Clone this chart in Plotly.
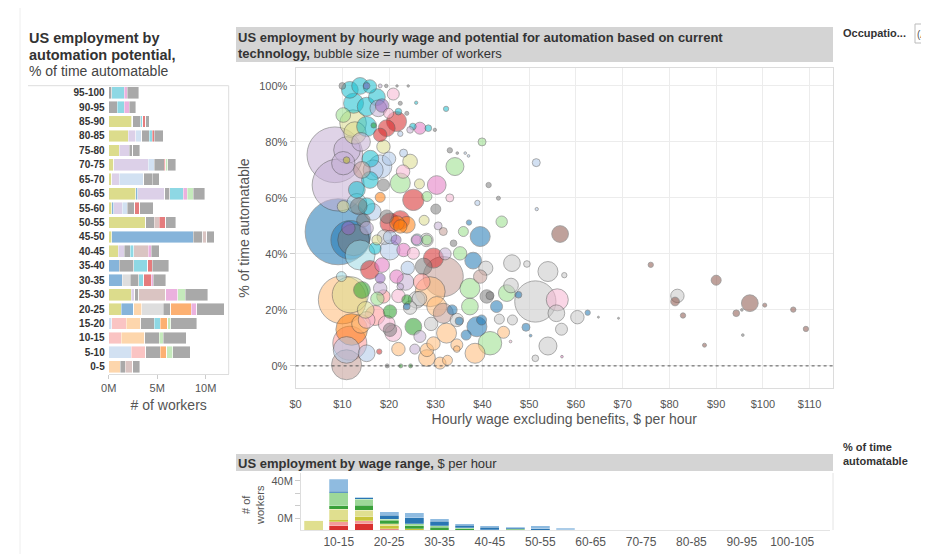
import numpy as np
import plotly.graph_objects as go

# the page body keeps its default 8px margin, so the figure is drawn 8px in
PAD = 8
W, H = 929 - PAD, 554 - PAD
FONT = "Liberation Sans"


def px(x):
    return (x - PAD) / W


def py(y):
    return 1 - (y - PAD) / H


# ---------------- left panel: workers (M) by % of time automatable
auto_rows = ["95-100", "90-95", "85-90", "80-85", "75-80", "70-75", "65-70",
             "60-65", "55-60", "50-55", "45-50", "40-45", "35-40", "30-35",
             "25-30", "20-25", "15-20", "10-15", "5-10", "0-5"]
# occupation groups, stacked left to right
olive = [0, 0, 2.4, 2.0, 1.1, 0.5, 0.3, 2.8, 0.3, 3.8, 0.3, 1.0, 0, 0, 2.3, 1.3, 0, 0, 0, 0]
blue = [0, 0, 0.1, 0, 0, 0, 0, 0.2, 0.2, 0, 8.4, 0, 1.1, 1.4, 0, 1.3, 0, 0, 0, 0]
lavender = [0, 0, 0, 0.8, 1.0, 3.6, 0.8, 2.8, 0.9, 0, 0, 0.6, 0, 0, 0.4, 0, 0, 0, 0, 0]
paleblue = [0, 0, 0, 0.6, 0, 0.6, 2.5, 0, 0.5, 0, 0, 0, 0, 0, 0, 0, 0.3, 0, 2.3, 0]
redlt = [0, 0, 0, 0, 0, 0, 0, 0, 0, 0, 0, 0, 0, 0, 0, 0, 1.5, 1.3, 1.5, 0]
orangelt = [0, 0, 0, 0, 0, 0, 0, 0, 0, 0, 0, 0, 0, 0, 0, 0.8, 1.5, 2.4, 0, 1.2]
graylt = [0, 0, 0, 0, 0, 0, 0, 0, 0, 0, 0, 0, 0, 0.8, 0, 2.2, 0, 0, 0, 0]
gray1 = [0.3, 0.9, 0.8, 0.8, 0.4, 1.0, 0.9, 0.5, 0.8, 0.9, 1.0, 0.6, 1.5, 0.9, 0.4, 0.8, 1.4, 1.5, 1.5, 0.5]
cyan = [1.3, 0.7, 0.2, 0.3, 0, 0, 0, 1.4, 0, 0, 0, 0.4, 1.4, 0.5, 0, 0, 0.6, 0, 0, 0]
brownlt = [0, 0, 0, 0, 0, 0, 0, 0, 0, 0.5, 0.4, 1.5, 0, 0, 2.8, 0, 0, 0, 0, 0.8]
orange = [0, 0, 0, 0, 0, 0, 0, 0, 0, 0, 0, 0, 0, 0, 0, 2.1, 0.8, 0, 0.7, 0]
red = [0, 0, 0.3, 0.2, 0, 0.2, 0, 0, 0.5, 0.7, 0, 0, 0.5, 0.8, 0, 0, 0, 0, 0, 0]
pink = [0.3, 0.5, 0, 0, 0, 0, 0, 0.4, 0, 0, 0, 0.3, 0, 0.2, 1.2, 0.6, 0, 0, 0, 0]
greenlt = [0, 0, 0, 0, 0, 0.2, 0, 0.6, 0, 0, 0, 0, 0, 0, 0.8, 0, 0.3, 0.4, 0.6, 0]
gray2 = [1.2, 0.7, 0.4, 0.9, 0.7, 0.8, 0.7, 1.2, 1.4, 1.0, 0.8, 0.8, 1.7, 1.3, 2.3, 2.8, 2.7, 2.4, 1.8, 0.7]

left_stack = [("olive", olive, "#dcdc8c"), ("blue", blue, "#86b4da"),
              ("lavender", lavender, "#dcd0e8"), ("paleblue", paleblue, "#d2e1f2"),
              ("redlt", redlt, "#fac4c3"), ("orangelt", orangelt, "#fdd6ac"),
              ("graylt", graylt, "#dedede"), ("gray1", gray1, "#a9a9a9"),
              ("cyan", cyan, "#8ed8e4"), ("brownlt", brownlt, "#dac4c2"),
              ("orange", orange, "#fcb072"), ("red", red, "#e57c7d"),
              ("pink", pink, "#ebb1de"), ("greenlt", greenlt, "#c5eabc"),
              ("gray2", gray2, "#a9a9a9")]

# ---------------- main scatter: wage ($/h), % automatable, workers (thousands), group
bub_wage = [13.8, 11.6, 15.9, 17.4, 12.4, 15.2, 10.0, 15.2, 18.1, 19.4, 21.7, 24.1,
            20.9, 17.7, 18.5, 19.9, 22.0, 22.4, 25.8, 23.8, 32.2, 10.2, 12.3, 21.6,
            19.5, 18.1, 16.7, 15.2, 26.6, 25.1, 28.4, 29.8, 24.5, 22.4, 14.0, 16.0,
            20.0, 8.4, 9.1, 11.0, 10.2, 10.9, 14.2, 18.1, 24.5, 18.8, 23.1, 22.4,
            23.0, 30.2, 34.1, 39.9, 33.0, 34.6, 36.3, 37.0, 15.9, 13.1, 18.8, 25.2,
            18.1, 28.1, 10.2, 41.3, 43.4, 22.4, 21.7, 38.9, 13.5, 16.5, 51.5, 51.6,
            44.1, 56.6, 12.7, 16.6, 13.1, 15.2, 19.5, 22.4,
            9.1, 11.7, 11.3, 12.4, 13.8, 14.5, 20.2, 23.8, 19.0, 17.0, 21.5, 26.0,
            27.5, 30.5, 20.2, 23.1, 25.2, 29.5, 27.4, 15.9, 18.5, 21.6, 31.6, 9.8,
            23.5, 14.2, 18.1, 10.0, 11.7, 26.5, 20.2, 23.8, 24.5, 28.8, 31.6, 15.0,
            17.0, 14.0, 19.5, 25.2, 20.9, 26.6, 32.3, 12.0, 11.6, 10.9, 15.2, 17.9,
            22.0, 25.5, 29.5, 28.1, 30.9, 32.5, 19.6, 22.5, 24.6,
            15.2, 17.4, 20.2, 25.9, 28.1, 18.1, 22.4, 23.8, 25.9, 30.2, 18.8, 15.2,
            20.2, 34.5, 28.1, 10.9, 34.5, 37.3, 40.9, 39.8,
            24.0, 28.0, 32.0, 30.0, 26.5, 33.0, 27.0, 22.0, 29.0, 17.5,
            37.3, 39.5, 31.6, 35.9, 37.1, 33.8, 35.2, 38.0, 40.7, 39.5, 46.3, 49.5,
            54.0, 57.5, 41.6, 46.1, 45.2, 47.7, 51.3, 56.0, 55.8, 60.3, 62.5, 64.8,
            69.1, 56.9, 54.0, 51.3, 57.0, 43.0, 43.6, 46.4, 49.3, 44.5, 41.6, 38.8,
            38.4, 46.0, 50.3, 33.5, 35.0, 36.5, 34.5,
            76.0, 81.7, 81.2, 82.9, 87.5, 90.0, 97.2, 94.3, 95.5, 95.7, 100.4, 106.5,
            109.2]
bub_pct = [100, 98.6, 99.8, 96, 93.8, 92.6, 100, 100, 100, 100, 100, 100,
           97.1, 92, 93, 90.2, 90.8, 93.8, 94, 90.2, 91.8, 89.6, 86.7, 87.3,
           84.9, 82.5, 85.9, 85.5, 84.9, 85.5, 84.9, 84.3, 84.3, 82.9, 80, 74,
           74, 75.4, 64.6, 77.1, 72.4, 73.5, 70, 71.2, 73, 78.3, 76, 65.3,
           69.4, 64.6, 71.2, 80.0, 77, 76, 76, 75, 66.4, 62.9, 64.6, 59.3,
           60.2, 60.5, 56.9, 64.6, 59.9, 52.1, 51, 58.2, 57, 55, 72.6, 56,
           51.5, 47.1, 83.2, 70, 58, 57, 53.3, 49.8,
           47.9, 45, 49.2, 45, 39.6, 52, 51, 50.4, 46, 42, 45, 45,
           52, 50, 41.4, 41.4, 40.2, 38.5, 35.5, 34.3, 36, 31.9, 31.9, 31.9,
           30, 27.1, 27.7, 23.6, 25.4, 24, 19.4, 21.2, 20.8, 26.5, 18.8, 20,
           18, 15, 15, 14, 11.7, 10.5, 11.7, 13, 8.1, 0.4, 4.5, 5.1,
           6, 6, 8, 2.8, 1.0, 2.0, 0, 0, 0,
           49.2, 45, 46, 45, 45, 31.3, 28.3, 23.6, 23.6, 21.2, 24.8, 16.4,
           12.9, 7.5, 5.7, 5.7, 16.4, 21.2, 24.8, 16.4,
           35, 45, 40, 56, 65, 60, 30, 25, 15, 24,
           27.7, 46.2, 48, 48, 51.2, 43.8, 40.2, 37.6, 34.9, 31.9, 36.7, 36.4,
           33.7, 32.4, 25.1, 28.7, 26, 25.4, 23, 23.6, 18.8, 17.4, 19, 17.4,
           17, 13.1, 7.1, 2.7, 3.3, 21.2, 16.7, 16.4, 13.8, 12, 8.1, 14,
           4.5, 8.7, 10.8, 20, 16, 11, 6,
           36.1, 25, 23, 18, 7.4, 30.6, 22.4, 18.8, 20, 11, 21.7, 20.1,
           13.2]
bub_workers = [280, 280, 180, 280, 400, 350, 44, 44, 15, 12, 6, 6,
               144, 280, 180, 100, 44, 16, 11, 16, 28, 215, 711, 400,
               280, 180, 28, 400, 144, 44, 44, 11, 44, 28, 350, 280,
               180, 3100, 2700, 711, 544, 44, 280, 544, 215, 180, 64, 400,
               180, 350, 324, 64, 28, 7, 7, 7, 280, 280, 144, 455,
               100, 100, 144, 28, 16, 350, 215, 28, 280, 280, 64, 11,
               130, 280, 500, 400, 400, 280, 180, 180,
               4356, 1500, 180, 1000, 900, 180, 400, 280, 215, 144, 100, 144,
               100, 64, 400, 180, 144, 400, 280, 350, 215, 180, 1600, 100,
               280, 280, 180, 2300, 1300, 215, 180, 44, 180, 900, 400, 280,
               400, 350, 280, 280, 280, 144, 400, 1000, 1156, 900, 280, 28,
               180, 100, 180, 280, 144, 100, 16, 16, 16,
               180, 100, 180, 100, 100, 100, 44, 100, 280, 400, 180, 280,
               180, 144, 180, 711, 180, 280, 180, 100,
               180, 180, 144, 100, 100, 64, 280, 180, 180, 180,
               400, 400, 64, 100, 28, 44, 180, 280, 200, 180, 280, 44,
               400, 28, 64, 215, 280, 44, 1700, 484, 280, 180, 28, 4,
               4, 144, 324, 44, 7, 144, 100, 100, 64, 144, 550, 400,
               400, 7, 7, 100, 64, 100, 44,
               28, 180, 75, 28, 16, 100, 280, 44, 7, 7, 16, 28,
               28]
bub_group = ["cyan", "cyan", "cyan", "cyan", "cyan", "cyan", "gray", "purple", "lavender", "gray", "gray", "gray",
             "lightpink", "lavender", "purple", "lightpink", "cyan", "gray", "cyan", "gray", "cyan", "lightgreen", "lightolive", "red",
             "red", "red", "green", "cyan", "pink", "cyan", "cyan", "gray", "lavender", "lightblue", "lavender", "cyan",
             "lightblue", "lavender", "lavender", "lavender", "lavender", "olive", "lightbrown", "lightblue", "lightolive", "lightolive", "lightblue", "lightgreen",
             "lightpink", "pink", "lightgreen", "lightgreen", "gray", "gray", "lightblue", "lightblue", "cyan", "cyan", "gray", "red",
             "orange", "lightgreen", "lightolive", "gray", "gray", "red", "orange", "lightblue", "gray", "lightblue", "lightblue", "lightblue",
             "lightgreen", "brown", "lightolive", "lightblue", "lightcyan", "cyan", "gray", "orange",
             "blue", "blue", "purple", "gray", "lightcyan", "gray", "red", "orange", "lightgray", "cyan", "purple", "lightcyan",
             "lightolive", "lavender", "lightblue", "pink", "lightpink", "red", "gray", "red", "pink", "pink", "lightbrown", "lightcyan",
             "lavender", "green", "lavender", "lightorange", "lightolive", "lightgray", "green", "blue", "lightgray", "lightorange", "lightbrown", "lightolive",
             "lightred", "lightorange", "lightpink", "green", "lightpink", "lavender", "lightorange", "orange", "lightred", "lightbrown", "lightblue", "red",
             "lightorange", "lavender", "lightorange", "lightorange", "lightorange", "lightorange", "gray", "green", "green",
             "lavender", "lightolive", "lightblue", "pink", "lightgreen", "purple", "lavender", "green", "lightgray", "lightorange", "lightred", "lightpink",
             "gray", "lightorange", "lightorange", "lightblue", "lightgray", "lightgreen", "gray", "blue",
             "lightblue", "lightgray", "lavender", "gray", "lightolive", "lightpink", "lightred", "lightpink", "lightgray", "lightgreen",
             "lightgreen", "blue", "lightbrown", "lightgreen", "blue", "gray", "lightgreen", "blue", "lightgray", "lightbrown", "lightgray", "lightgray",
             "lightgray", "lightgray", "gray", "lightgray", "lightgreen", "blue", "lightgray", "lightpink", "lightgray", "lightgray", "blue", "gray",
             "gray", "lightgray", "lightgray", "lightgray", "pink", "blue", "lightgray", "lightgray", "blue", "lightorange", "lightgreen", "blue",
             "lightorange", "lightpink", "blue", "blue", "blue", "blue", "lightorange",
             "brown", "lightgray", "brown", "brown", "brown", "brown", "brown", "brown", "gray", "gray", "brown", "brown",
             "brown"]

tableau20 = {"blue": "#1f77b4", "lightblue": "#aec7e8", "orange": "#ff7f0e",
             "lightorange": "#ffbb78", "green": "#2ca02c", "lightgreen": "#98df8a",
             "red": "#d62728", "lightred": "#ff9896", "purple": "#9467bd",
             "lavender": "#c5b0d5", "brown": "#8c564b", "lightbrown": "#c49c94",
             "pink": "#e377c2", "lightpink": "#f7b6d2", "gray": "#7f7f7f",
             "lightgray": "#c7c7c7", "olive": "#bcbd22", "lightolive": "#dbdb8d",
             "cyan": "#17becf", "lightcyan": "#9edae5"}

wage_ticks = [0, 10, 20, 30, 40, 50, 60, 70, 80, 90, 100, 110]

# ---------------- bottom panel: workers (M) by wage range, split by % automatable
wage_ranges = ["5-10", "10-15", "15-20", "20-25", "25-30", "30-35", "35-40",
               "40-45", "45-50", "50-55", "55-60", "60-65", "65-70", "70-75",
               "75-80", "80-85", "85-90", "90-95", "95-100", "100-105", "105-110"]
w_red = [0, 3.5, 5.1, 1.0, 0, 0, 0, 0, 0, 0, 0, 0, 0, 0, 0, 0, 0, 0, 0, 0, 0]
w_lightred = [0, 3.5, 2.7, 0.3, 0, 0, 0, 0, 0, 0, 0, 0, 0, 0, 0, 0, 0, 0, 0, 0, 0]
w_olive = [0.8, 2.0, 3.2, 2.3, 1.3, 0, 0, 0, 0, 0, 0, 0, 0, 0, 0, 0, 0, 0, 0, 0, 0]
w_lightolive = [7.5, 8.0, 5.1, 1.5, 0, 0, 0, 0, 0, 0, 0, 0, 0, 0, 0, 0, 0, 0, 0, 0, 0]
w_green = [0, 2.7, 4.0, 3.0, 2.5, 2.4, 1.3, 0.5, 1.0, 0, 0, 0, 0, 0, 0, 0, 0, 0, 0, 0, 0]
w_lightgreen = [0, 10.5, 5.1, 0.8, 1.3, 1.1, 0.8, 0, 0.3, 0, 0, 0, 0, 0, 0, 0, 0, 0, 0, 0, 0]
w_blue = [0, 1.3, 1.0, 3.2, 5.1, 3.8, 1.9, 2.0, 0.9, 1.2, 0.5, 0, 0, 0, 0, 0, 0, 0, 0, 0, 0]
w_lightblue = [0, 9.7, 0.6, 2.7, 4.0, 1.9, 1.1, 1.0, 0.5, 2.3, 1.0, 0.2, 0, 0, 0, 0, 0, 0, 0, 0, 0]

bottom_stack = [("red", w_red, "#d9302f"), ("lightred", w_lightred, "#f49a9a"),
                ("olive", w_olive, "#c8c43a"), ("lightolive", w_lightolive, "#e0df8f"),
                ("green", w_green, "#3aa13a"), ("lightgreen", w_lightgreen, "#9dd898"),
                ("blue", w_blue, "#2a76b3"), ("lightblue", w_lightblue, "#8fbbe0")]

fig = go.Figure()

# left stacked bars
for name, vals, col in left_stack:
    fig.add_trace(go.Bar(
        y=auto_rows, x=vals, orientation="h", name=name,
        marker=dict(color=col, line=dict(color="rgba(255,255,255,0.7)", width=0.6)),
        xaxis="x2", yaxis="y2", showlegend=False))

# bubbles, biggest first so the small ones stay visible
order = np.argsort(bub_workers)[::-1]
fig.add_trace(go.Scatter(
    x=np.array(bub_wage)[order], y=np.array(bub_pct)[order], mode="markers",
    marker=dict(size=np.sqrt(np.array(bub_workers)[order]), sizemode="diameter",
                color=[tableau20[bub_group[i]] for i in order], opacity=0.55,
                line=dict(color="rgba(70,70,70,0.8)", width=1)),
    xaxis="x", yaxis="y", showlegend=False, cliponaxis=False))

# bottom stacked bars
for name, vals, col in bottom_stack:
    fig.add_trace(go.Bar(
        x=wage_ranges, y=vals, name=name, width=0.75,
        marker=dict(color=col, line=dict(color="rgba(255,255,255,0.5)", width=0.5)),
        xaxis="x3", yaxis="y3", showlegend=False))

axis_font = dict(family=FONT, size=11, color="#555")

fig.update_layout(
    width=W, height=H, margin=dict(l=0, r=0, t=0, b=0, autoexpand=False),
    paper_bgcolor="white", plot_bgcolor="white",
    barmode="stack", bargap=0.18,
    font=dict(family=FONT, color="#333"),
    xaxis=dict(domain=[px(295.6), px(833)], range=[0, 115], tickvals=wage_ticks,
               ticktext=["$" + str(v) for v in wage_ticks], tickfont=axis_font,
               showgrid=True, gridcolor="#ececec", zeroline=False,
               showline=True, linecolor="#dcdcdc", mirror=True, automargin=False,
               ticks="", ticklabelstandoff=6,
               title=dict(text="Hourly wage excluding benefits, $ per hour",
                          font=dict(family=FONT, size=14, color="#555"), standoff=4)),
    yaxis=dict(domain=[py(388), py(68)], range=[-7.9, 106.4],
               tickvals=[0, 20, 40, 60, 80, 100],
               ticktext=["0%", "20%", "40%", "60%", "80%", "100%"], tickfont=axis_font,
               showgrid=True, gridcolor="#ececec", zeroline=False,
               showline=True, linecolor="#dcdcdc", mirror=True, automargin=False,
               ticks="outside", ticklen=5, tickcolor="#cccccc",
               title=dict(text="% of time automatable",
                          font=dict(family=FONT, size=14, color="#555"), standoff=6)),
    xaxis2=dict(domain=[px(108.7), px(228.7)], range=[0, 12.37], anchor="y2",
                tickvals=[0, 5, 10], ticktext=["0M", "5M", "10M"], tickfont=axis_font,
                showgrid=False, zeroline=False, showline=True, linecolor="#dddddd",
                ticks="outside", ticklen=4, tickcolor="#cccccc", automargin=False,
                title=dict(text="# of workers", font=dict(family=FONT, size=14, color="#555"),
                           standoff=6)),
    yaxis2=dict(domain=[py(374), py(85.5)], anchor="x2", type="category",
                categoryorder="array", categoryarray=auto_rows, autorange="reversed",
                tickvals=auto_rows, ticktext=["<b>" + r + "</b>" for r in auto_rows],
                tickfont=dict(family=FONT, size=10, color="#333"), showgrid=False,
                showline=False, ticks="", ticklabelstandoff=3, automargin=False),
    xaxis3=dict(domain=[px(301), px(830)], range=[-0.5, 20.5], anchor="y3",
                type="category", tickvals=wage_ranges[1::2],
                tickfont=dict(family=FONT, size=12, color="#555"),
                showgrid=False, showline=True, linecolor="#e4e4e4", ticks="",
                automargin=False),
    yaxis3=dict(domain=[py(530.3), py(473)], range=[0, 46.2], anchor="x3",
                tickvals=[9.7, 19.8, 29.8, 40], ticktext=["0M", "", "", "40M"],
                tickfont=axis_font, showgrid=False, zeroline=False,
                showline=True, linecolor="#dddddd", automargin=False,
                ticks="outside", ticklen=5, tickcolor="#cccccc"),
)

shapes = [
    # title bands
    dict(type="rect", xref="paper", yref="paper", x0=px(236), x1=px(833),
         y0=py(62), y1=py(27), fillcolor="#d4d4d4", line=dict(width=0), layer="below"),
    dict(type="rect", xref="paper", yref="paper", x0=px(236), x1=px(833),
         y0=py(471), y1=py(454), fillcolor="#d4d4d4", line=dict(width=0), layer="below"),
    # left panel frame
    dict(type="line", xref="paper", yref="paper", x0=px(28), x1=px(228.7),
         y0=py(85.7), y1=py(85.7), line=dict(color="#dddddd", width=1)),
    dict(type="line", xref="paper", yref="paper", x0=px(228.7), x1=px(228.7),
         y0=py(85.7), y1=py(374), line=dict(color="#dddddd", width=1)),
    dict(type="line", xref="paper", yref="paper", x0=px(20), x1=px(20),
         y0=0, y1=1, line=dict(color="#eeeeee", width=1)),
    # bottom panel right edge
    dict(type="line", xref="paper", yref="paper", x0=px(833), x1=px(833),
         y0=py(530), y1=py(473), line=dict(color="#e4e4e4", width=1)),
    # dotted zero line
    dict(type="line", xref="x domain", yref="y", x0=0, x1=1, y0=0, y1=0,
         line=dict(color="#555555", width=1, dash="dot")),
    # filter box
    dict(type="rect", xref="paper", yref="paper", x0=px(915), x1=px(929),
         y0=py(43), y1=py(24), fillcolor="white", line=dict(color="#bbbbbb", width=1)),
]

annotations = [
    dict(text="<b>US employment by</b>", x=px(27), y=py(38)),
    dict(text="<b>automation potential,</b>", x=px(27), y=py(54.5)),
    dict(text="% of time automatable", x=px(27), y=py(71), size=14, color="#444"),
    dict(text="<b>US employment by hourly wage and potential for automation based on current</b>",
         x=px(236), y=py(37), size=13),
    dict(text="<b>technology,</b> bubble size = number of workers", x=px(236), y=py(53), size=13),
    dict(text="<b>US employment by wage range,</b> $ per hour", x=px(236), y=py(463), size=13),
    dict(text="<b>Occupatio...</b>", x=px(841), y=py(33), size=11),
    dict(text="(A", x=px(915), y=py(34), size=10, color="#555"),
    dict(text="<b>% of time</b>", x=px(841), y=py(447), size=11),
    dict(text="<b>automatable</b>", x=px(841), y=py(461), size=11),
]
ann = []
for a in annotations:
    ann.append(dict(text=a["text"], x=a["x"], y=a["y"], xref="paper", yref="paper",
                    xanchor="left", yanchor="middle", showarrow=False,
                    font=dict(family=FONT, size=a.get("size", 14.5),
                              color=a.get("color", "#333"))))
ann.append(dict(text="# of<br>workers", x=px(253), y=py(505), xref="paper", yref="paper",
                textangle=-90, showarrow=False, xanchor="center", yanchor="middle",
                font=dict(family=FONT, size=11, color="#555")))

fig.update_layout(shapes=shapes, annotations=ann)

fig.write_html("out.html")
